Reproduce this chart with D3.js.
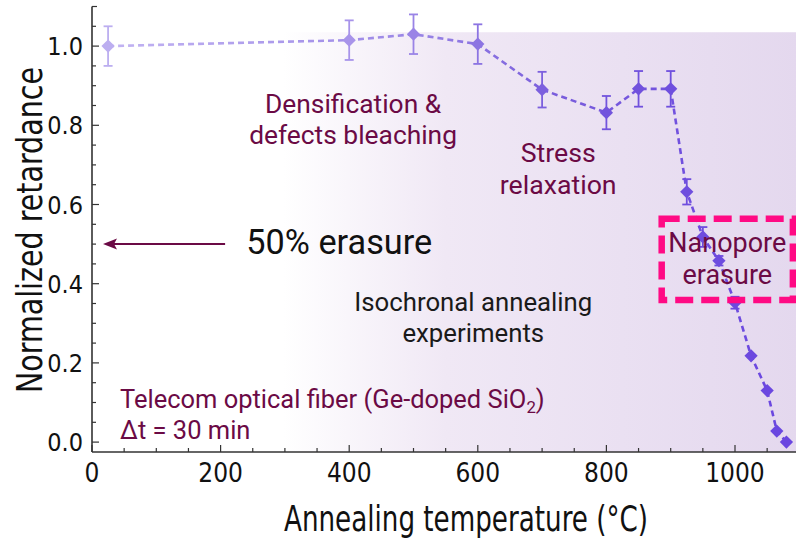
<!DOCTYPE html>
<html><head><meta charset="utf-8">
<script src="https://cdn.jsdelivr.net/npm/d3@7"></script>
<style>
html,body{margin:0;padding:0;background:#fff;}
svg{display:block;}
.ax{font-family:"Liberation Sans Narrow","DejaVu Sans Condensed","Roboto",sans-serif;}
.ann{font-family:"Roboto","Noto Sans",sans-serif;}
</style></head>
<body><svg id="c" width="796" height="540"></svg>
<script>
// ---- data ----
const temps   = [25, 400, 500, 600, 700, 800, 850, 900, 925, 950, 975, 1000, 1025, 1050, 1065, 1080];
const retard  = [1.0, 1.015, 1.03, 1.005, 0.89, 0.832, 0.892, 0.892, 0.632, 0.518, 0.458, 0.352, 0.218, 0.13, 0.028, 0.0];
const errors  = [0.05, 0.05, 0.05, 0.05, 0.045, 0.042, 0.045, 0.045, 0.032, 0.025, 0.012, 0.015, 0, 0, 0, 0];
const xTicks  = [0, 200, 400, 600, 800, 1000];
const yTicks  = [0.0, 0.2, 0.4, 0.6, 0.8, 1.0];
const xTitle  = "Annealing temperature (°C)";
const yTitle  = "Normalized retardance";

const svg = d3.select("#c");
const x = d3.scaleLinear().domain([0, 1100]).range([92, 799.3]);
const y = d3.scaleLinear().domain([-0.025, 1.1]).range([452, 6.5]);

const defs = svg.append("defs");
const bg = defs.append("linearGradient").attr("id","bg")
  .attr("gradientUnits","userSpaceOnUse")
  .attr("x1", x(0)).attr("x2", x(1100)).attr("y1",0).attr("y2",0);
bg.append("stop").attr("offset","0.27").attr("stop-color","#ffffff");
bg.append("stop").attr("offset","0.5").attr("stop-color","#f0e8f5");
bg.append("stop").attr("offset","0.75").attr("stop-color","#eae0f2");
bg.append("stop").attr("offset","1").attr("stop-color","#e4d8ee");

const lg = defs.append("linearGradient").attr("id","lg")
  .attr("gradientUnits","userSpaceOnUse")
  .attr("x1", x(25)).attr("x2", x(1080)).attr("y1",0).attr("y2",0);
lg.append("stop").attr("offset","0").attr("stop-color","#c2b4f2");
lg.append("stop").attr("offset","0.45").attr("stop-color","#9a86e6");
lg.append("stop").attr("offset","0.65").attr("stop-color","#7a5edc");
lg.append("stop").attr("offset","1").attr("stop-color","#6a46e0");

// background shading
svg.append("rect")
  .attr("x", x(0)).attr("y", y(1.035))
  .attr("width", x(1100) - x(0)).attr("height", y(-0.025) - y(1.035))
  .attr("fill","url(#bg)");

// axes
const axCol = "#333";
const gx = svg.append("g").attr("transform",`translate(0,${y(-0.025)})`);
gx.append("line").attr("x1",x(0)).attr("x2",796).attr("stroke",axCol).attr("stroke-width",1.6);
gx.selectAll(".mn").data(d3.range(0, 1101, 50)).join("line")
  .attr("x1",d=>x(d)).attr("x2",d=>x(d)).attr("y1",0).attr("y2",d=>d%200===0?-7:-4)
  .attr("stroke",axCol).attr("stroke-width",1.2);
gx.selectAll("text").data(xTicks).join("text").attr("class","ax")
  .attr("x",d=>x(d)).attr("y",30).attr("text-anchor","middle")
  .attr("font-size",26).attr("fill","#111").text(d=>d);

const gy = svg.append("g").attr("transform",`translate(${x(0)},0)`);
gy.append("line").attr("y1",y(-0.025)).attr("y2",y(1.1)).attr("stroke",axCol).attr("stroke-width",1.6);
gy.selectAll(".mn").data(d3.range(0, 23).map(i=>i*0.05)).join("line")
  .attr("y1",d=>y(d)).attr("y2",d=>y(d)).attr("x1",0)
  .attr("x2",(d,i)=> i%4===0 ? 7 : (i===22 ? 5 : 4))
  .attr("stroke",axCol).attr("stroke-width",1.2);
gy.selectAll("text").data(yTicks).join("text").attr("class","ax")
  .attr("x",-9).attr("y",d=>y(d)+9).attr("text-anchor","end")
  .attr("font-size",25).attr("fill","#111").text(d=>d.toFixed(1));

svg.append("text").attr("class","ax")
  .attr("x", 466).attr("y", 531).attr("text-anchor","middle")
  .attr("font-size",36).attr("fill","#111")
  .attr("textLength",364).attr("lengthAdjust","spacingAndGlyphs").text(xTitle);
svg.append("text").attr("class","ax")
  .attr("transform","translate(42,230) rotate(-90)").attr("text-anchor","middle")
  .attr("font-size",36).attr("fill","#111")
  .attr("textLength",326).attr("lengthAdjust","spacingAndGlyphs").text(yTitle);

// data
const data = temps.map((t,i)=>({t, v:retard[i], e:errors[i]}));
const col = d3.scaleLinear().domain([25, 400, 600, 750, 1080])
  .range(["#bcaef0","#a894ea","#8c74e2","#7456dc","#6a46e0"]);

svg.append("path").datum(data)
  .attr("d", d3.line().x(d=>x(d.t)).y(d=>y(d.v)))
  .attr("fill","none").attr("stroke","url(#lg)").attr("stroke-width",2.6)
  .attr("stroke-dasharray","6,4");

const eb = svg.append("g").selectAll("g").data(data.filter(d=>d.e>0)).join("g")
  .attr("stroke",d=>col(d.t)).attr("stroke-width",1.8);
eb.append("line").attr("x1",d=>x(d.t)).attr("x2",d=>x(d.t))
  .attr("y1",d=>y(d.v+d.e)).attr("y2",d=>y(d.v-d.e));
eb.append("line").attr("x1",d=>x(d.t)-4.5).attr("x2",d=>x(d.t)+4.5)
  .attr("y1",d=>y(d.v+d.e)).attr("y2",d=>y(d.v+d.e));
eb.append("line").attr("x1",d=>x(d.t)-4.5).attr("x2",d=>x(d.t)+4.5)
  .attr("y1",d=>y(d.v-d.e)).attr("y2",d=>y(d.v-d.e));

svg.append("g").selectAll("path").data(data).join("path")
  .attr("d", d3.symbol(d3.symbolSquare, 88))
  .attr("transform", d=>`translate(${x(d.t)},${y(d.v)}) rotate(45)`)
  .attr("fill", d=>col(d.t));

// annotations: font size fitted to the reference's line width
const maroon = "#6b0a45";
function block(lines, cx, anchor, targetW, fill){
  const els = lines.map(([txt, by]) =>
    svg.append("text").attr("class","ann").attr("x",x(cx)).attr("y",y(by))
      .attr("text-anchor",anchor).attr("font-size",20).attr("fill",fill).text(txt));
  const w = d3.max(els, e => e.node().getComputedTextLength());
  const fs = 20 * targetW / w;
  els.forEach(e => e.attr("font-size", fs));
  if (els.length === 2) {
    const b0 = y(lines[0][1]), b1 = y(lines[1][1]);
    const need = fs * 1.18 + 0.6;
    if (b1 - b0 < need) {
      const mid = (b0 + b1) / 2;
      els[0].attr("y", mid - need / 2); els[1].attr("y", mid + need / 2);
    }
  }
  return fs;
}
block([["Densification &",0.831],["defects bleaching",0.753]], 406, "middle", 208, maroon);
block([["Stress",0.705],["relaxation",0.629]], 725, "middle", 117, maroon);
block([["Isochronal annealing",0.328],["experiments",0.255]], 593, "middle", 238, "#1a1a1a");
block([["Nanopore",0.477],["erasure",0.402]], 988, "middle", 118, maroon);
block([["50% erasure",0.475]], 240, "start", 186, "#111");

const tel = svg.append("text").attr("class","ann").attr("x",x(43.5)).attr("y",y(0.086))
  .attr("font-size",24).attr("fill",maroon);
tel.append("tspan").text("Telecom optical fiber (Ge-doped SiO");
tel.append("tspan").attr("font-size",16).attr("dy",5).text("2");
tel.append("tspan").attr("dy",-5).text(")");
const tw = tel.node().getComputedTextLength();
const tfs = 24 * 425 / tw;
tel.attr("font-size", tfs);
tel.select("tspan:nth-child(2)").attr("font-size", tfs * 0.66);
svg.append("text").attr("class","ann").attr("x",x(43.5)).attr("y",y(0.008))
  .attr("font-size",tfs).attr("fill",maroon).text("Δt = 30 min");

// 50% arrow
const ay = y(0.5);
svg.append("line").attr("x1",x(0)+22).attr("x2",x(207)).attr("y1",ay).attr("y2",ay)
  .attr("stroke",maroon).attr("stroke-width",2);
svg.append("path")
  .attr("d",`M${x(0)+11},${ay} L${x(0)+25},${ay-5.5} L${x(0)+22},${ay} L${x(0)+25},${ay+5.5}Z`)
  .attr("fill",maroon);

// nanopore box
svg.append("rect").attr("x",x(886)).attr("y",y(0.564))
  .attr("width",x(1090)-x(886)).attr("height",y(0.359)-y(0.564))
  .attr("fill","none").attr("stroke","#ff0a84").attr("stroke-width",6.5)
  .attr("stroke-dasharray","18,8");
</script></body></html>
